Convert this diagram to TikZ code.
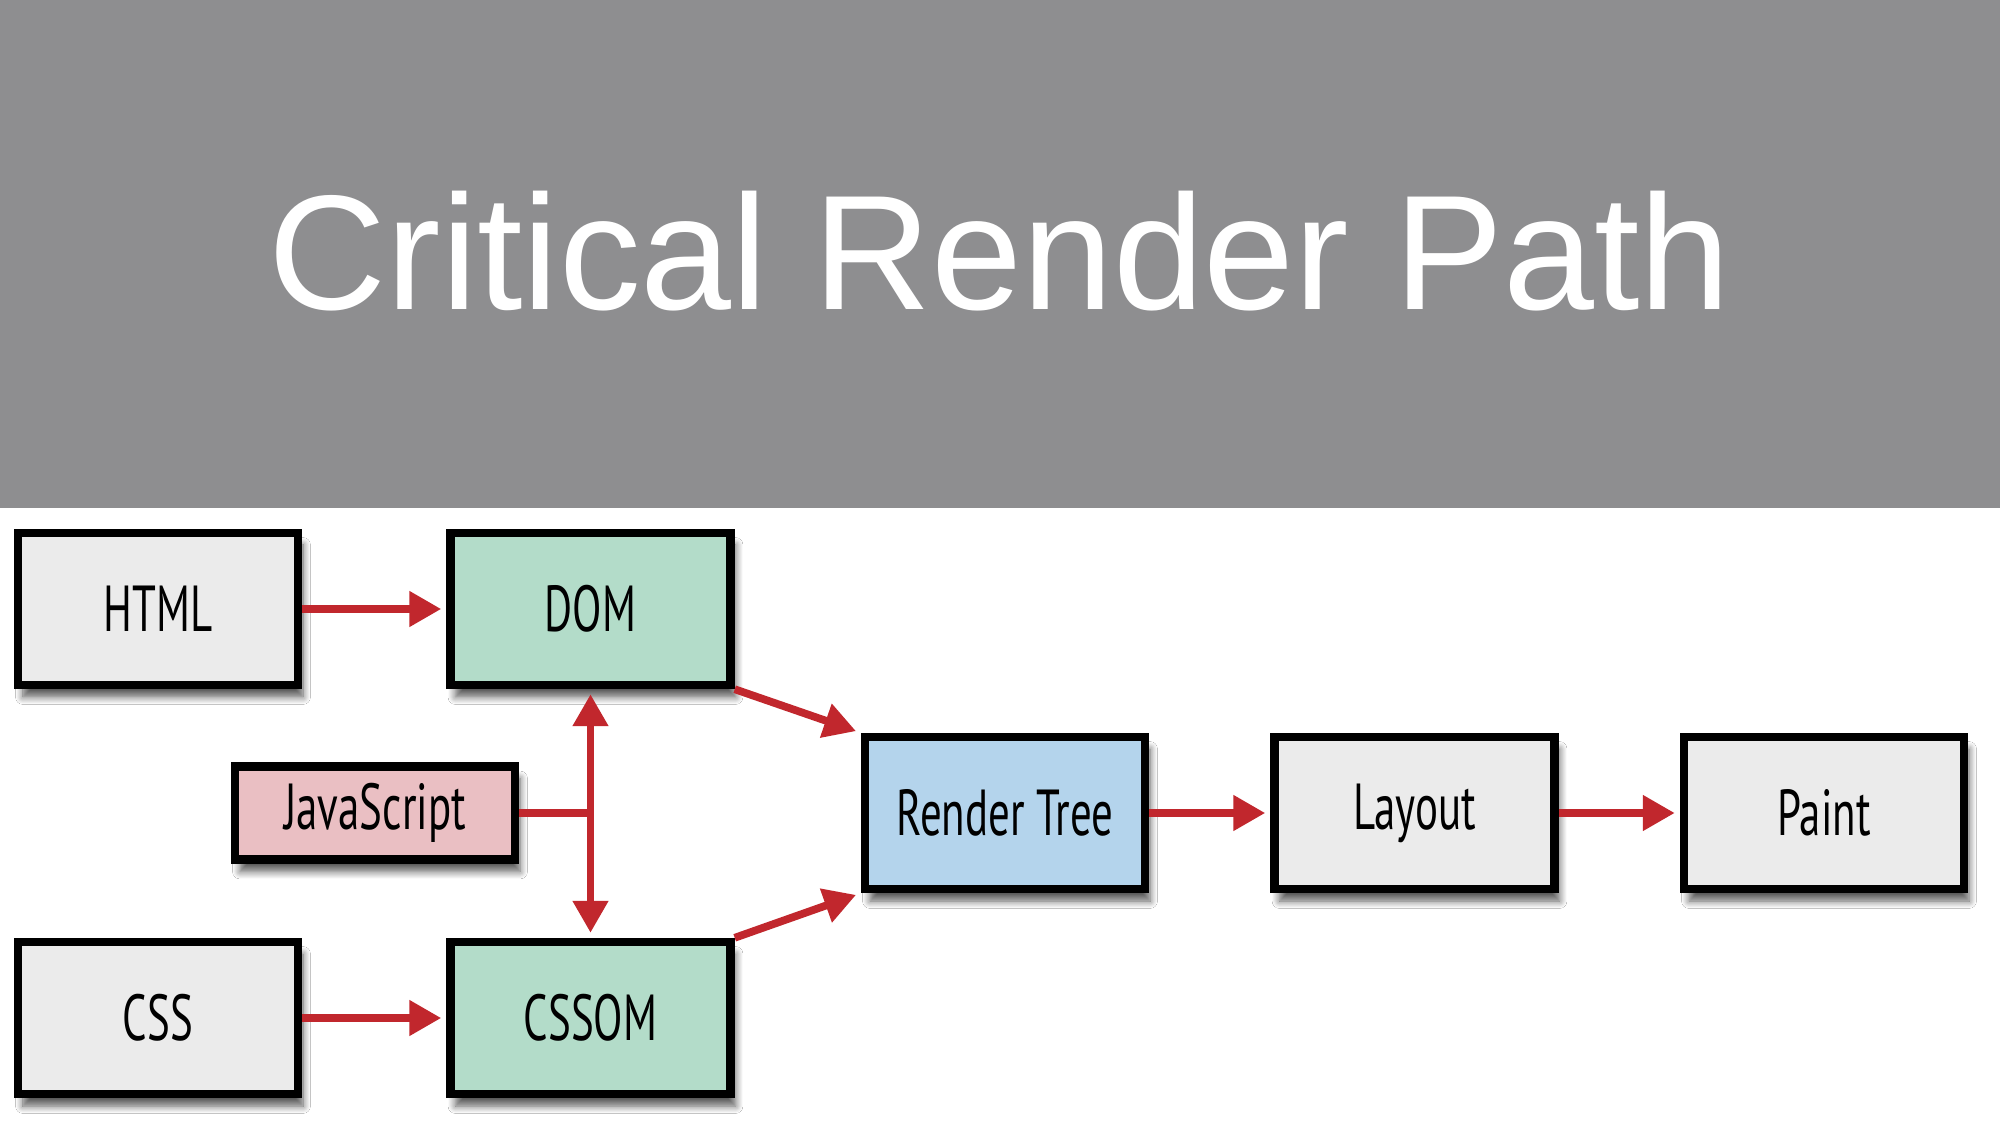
\documentclass[tikz,border=0pt]{standalone}
\usepackage{fontspec}
\usepackage{tikz}
\usetikzlibrary{arrows.meta, shadows.blur}
\setmainfont{Liberation Sans}
\newfontfamily\boxfont[FakeStretch=0.66]{PT Sans}
\definecolor{bandgray}{HTML}{8E8E90}
\definecolor{boxgray}{HTML}{EBEBEB}
\definecolor{boxgreen}{HTML}{B3DCC9}
\definecolor{boxblue}{HTML}{B4D4EC}
\definecolor{boxpink}{HTML}{EABFC3}
\definecolor{arrowred}{HTML}{C1272D}

\begin{document}
\begin{tikzpicture}[
    stagebox/.style={draw=black, line width=2.4pt, minimum width=2.8cm, minimum height=1.52cm,
        font=\boxfont\fontsize{18.5}{21}\selectfont,
        blur shadow={shadow xshift=0.05cm, shadow yshift=-0.12cm, shadow blur steps=8, shadow opacity=65}},
    flow/.style={draw=arrowred, line width=2.2pt, -{Triangle[length=0.32cm, width=0.34cm]}, shorten >=0.05cm}
]
    % canvas and title band
    \useasboundingbox (0,0) rectangle (20,11.25);
    \fill[white] (0,0) rectangle (20,11.25);
    \fill[bandgray] (0,6.17) rectangle (20,11.25);
    \node[white, font=\fontsize{46.5}{52}\selectfont] (title) at (10,8.74) {Critical Render Path};

    % sources
    \node[stagebox, fill=boxgray] (html) at (1.58,5.16) {HTML};
    \node[stagebox, fill=boxgray] (css) at (1.58,1.07) {CSS};
    \node[stagebox, fill=boxpink, minimum height=0.93cm] (js) at (3.75,3.12) {JavaScript};

    % object models
    \node[stagebox, fill=boxgreen] (dom) at (5.905,5.16) {DOM};
    \node[stagebox, fill=boxgreen] (cssom) at (5.905,1.07) {CSSOM};

    % pipeline
    \node[stagebox, fill=boxblue] (render) at (10.05,3.12) {Render Tree};
    \node[stagebox, fill=boxgray] (layout) at (14.145,3.12) {Layout};
    \node[stagebox, fill=boxgray] (paint) at (18.24,3.12) {Paint};

    % connectors
    \draw[flow] (html) -- (dom);
    \draw[flow] (css) -- (cssom);
    \draw[flow, {Triangle[length=0.32cm, width=0.34cm]}-{Triangle[length=0.32cm, width=0.34cm]}, shorten <=0.05cm] (dom.south) -- (cssom.north);
    \draw[draw=arrowred, line width=2.2pt] (js.east) -- (js.east -| dom.south);
    \draw[flow] (dom.south east) -- (render.north west);
    \draw[flow] (cssom.north east) -- (render.south west);
    \draw[flow] (render) -- (layout);
    \draw[flow] (layout) -- (paint);
\end{tikzpicture}
\end{document}
